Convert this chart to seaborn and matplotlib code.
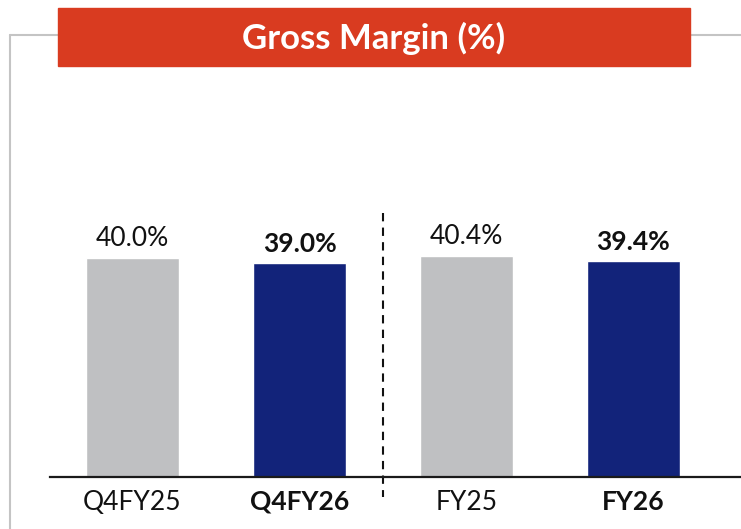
import matplotlib
matplotlib.use("Agg")
import matplotlib.pyplot as plt
import seaborn as sns
import pandas as pd
from matplotlib.patches import Rectangle
from matplotlib.lines import Line2D

categories = ['Q4FY25', 'Q4FY26', 'FY25', 'FY26']
margins = [40.0, 39.0, 40.4, 39.4]
labels = ['40.0%', '39.0%', '40.4%', '39.4%']
bold = [False, True, False, True]
bar_colors = ['#BFC0C2', '#12237A', '#BFC0C2', '#12237A']

sns.set_style('white')
plt.rcParams['font.family'] = ['Lato', 'DejaVu Sans']

df = pd.DataFrame({'period': categories, 'margin': margins})

fig = plt.figure(figsize=(7.41, 5.29), dpi=100)
ax = fig.add_axes([50 / 741, 1 - 477 / 529, 691 / 741, 377 / 529])

sns.barplot(data=df, x='period', y='margin', hue='period', palette=bar_colors,
            width=0.56, legend=False, ax=ax, saturation=1)

ax.set_xlim(-0.494, 3.644)
ax.set_ylim(0, 68.8)
ax.set_xlabel('')
ax.set_ylabel('')
ax.set_yticks([])
for side in ['left', 'right', 'top']:
    ax.spines[side].set_visible(False)
ax.spines['bottom'].set_color('#1a1a1a')
ax.spines['bottom'].set_linewidth(1.6)
ax.tick_params(axis='x', length=0, pad=9, labelsize=19)
for tick, b in zip(ax.get_xticklabels(), bold):
    tick.set_fontweight('bold' if b else 'normal')
    tick.set_color('#111111')

# value labels
for i, (v, lab, b) in enumerate(zip(margins, labels, bold)):
    ax.annotate(lab, (i, v), xytext=(0, 5), textcoords='offset points',
                ha='center', va='bottom', fontsize=19,
                fontweight='bold' if b else 'normal', color='#111111')

# divider between quarter and full year
ax.plot([1.5, 1.5], [48.2, -3.7], color='#111111', lw=1.5,
        linestyle=(0, (4, 3)), clip_on=False)

# frame lines
fy = 1 - 35 / 529
fig.add_artist(Line2D([10 / 741, 10 / 741], [0, fy], color='#C4C4C4', lw=1.5))
fig.add_artist(Line2D([10 / 741, 58 / 741], [fy, fy], color='#C4C4C4', lw=1.5))
fig.add_artist(Line2D([690 / 741, 1], [fy, fy], color='#C4C4C4', lw=1.5))

# title banner
fig.add_artist(Rectangle((58 / 741, 1 - 66 / 529), 632 / 741, 58 / 529,
                         transform=fig.transFigure, color='#D93B20', zorder=3))
fig.text(374 / 741, 1 - 38 / 529, 'Gross Margin (%)', ha='center', va='center',
         color='white', fontsize=25, fontweight='bold', zorder=4)

fig.savefig('out.png', dpi=100)
